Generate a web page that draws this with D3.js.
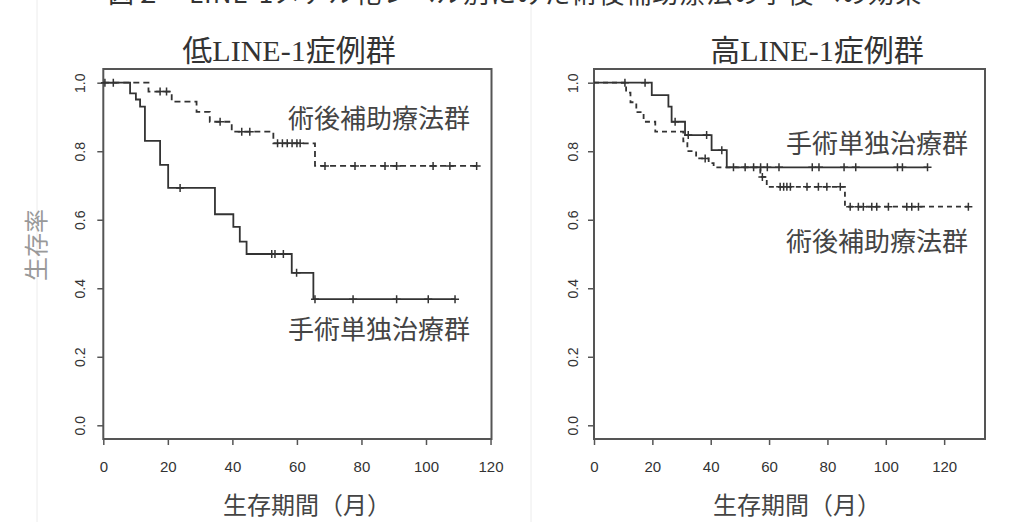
<!DOCTYPE html>
<html>
<head>
<meta charset="utf-8">
<script src="https://cdn.jsdelivr.net/npm/d3@7"></script>
<style>
  body { margin: 0; background: #fff; }
  svg { display: block; }
  .tick text { font-family: "Liberation Sans", Arial, sans-serif; fill: #333; }
</style>
</head>
<body>
<script>

// panel titles and group labels
var panelTitles = ["低LINE-1症例群", "高LINE-1症例群"];
var groupSurg = "手術単独治療群";
var groupAdj = "術後補助療法群";
var xTitle = "生存期間（月）";
var yTitle = "生存率";
var figTitle = "図２　LINE-1メチル化レベル別にみた術後補助療法の予後への効果";

var xTicks = [0, 20, 40, 60, 80, 100, 120];
var yTicks = [0, 0.2, 0.4, 0.6, 0.8, 1.0];

// low LINE-1: surgery only (solid)
var lowSurgTimes = [0, 8.3, 10.1, 11.4, 12.9, 17.6, 20.1, 34.6, 40.3, 42.3, 44.4, 58.4, 65.1];
var lowSurgSurv  = [1, 0.969, 0.951, 0.93, 0.83, 0.76, 0.693, 0.616, 0.579, 0.536, 0.50, 0.445, 0.368];
var lowSurgCens  = [23.8, 52.2, 53.2, 55.8, 59.9, 65.6, 77.4, 90.9, 100.7, 109.0];

// low LINE-1: adjuvant (dashed)
var lowAdjTimes = [0, 14, 21.2, 28.9, 33, 39.8, 52.7, 65.6];
var lowAdjSurv  = [1, 0.974, 0.945, 0.915, 0.886, 0.857, 0.823, 0.757];
var lowAdjCens  = [0.5, 3.1, 17.6, 19.6, 36.2, 42.9, 45.4, 54, 55.5, 57, 58.5, 60, 61,
                   68.7, 78, 87.3, 90.9, 102.2, 107.4, 115.7];

// high LINE-1: surgery only (solid)
var highSurgTimes = [0, 19.8, 25.5, 26.6, 31.2, 40.3, 45.5];
var highSurgSurv  = [1, 0.964, 0.93, 0.886, 0.847, 0.803, 0.753];
var highSurgCens  = [10.6, 17.5, 27.8, 32.3, 38.6, 43.8, 47.8, 51.8, 54.7, 57.1, 59.4, 63.4,
                     74.8, 77.1, 85.7, 89.7, 104, 105.7, 114.3];

// high LINE-1: adjuvant (dashed)
var highAdjTimes = [0, 11, 12.5, 14.5, 17, 21, 30.6, 32, 35, 39.3, 41, 57, 59.2, 86];
var highAdjSurv  = [1, 0.971, 0.943, 0.914, 0.886, 0.857, 0.829, 0.80, 0.779, 0.765, 0.753, 0.725, 0.696, 0.638];
var highAdjCens  = [38.1, 57.7, 63.8, 65, 66.1, 67.3, 73, 76.9, 79.8, 84.4, 87.8, 90.6, 92.3,
                    95.2, 96.9, 100.9, 107.2, 108.9, 111.2, 128.3];

var width = 1010, height = 522;
var plotTop = 69, plotBottom = 439;

var svg = d3.select("body").append("svg")
    .attr("width", width)
    .attr("height", height);

// faint frame lines from the source page
[37, 531].forEach(function (x) {
  svg.append("line").attr("x1", x).attr("x2", x).attr("y1", 0).attr("y2", height)
      .attr("stroke", "#ececec").attr("stroke-width", 1);
});

// figure caption, cut off at the top edge as in the source
svg.append("text")
    .attr("x", 108).attr("y", 3)
    .style("font-family", "'Noto Sans CJK JP'")
    .style("font-size", "26px")
    .style("letter-spacing", "1px")
    .attr("fill", "#333")
    .text(figTitle);

var panels = [
  { title: panelTitles[0], left: 103.3, right: 491.5, xmax: 120.3, tx: 289, ax: -18.5,
    series: [
      { times: lowAdjTimes, surv: lowAdjSurv, cens: lowAdjCens, dash: "6,4" },
      { times: lowSurgTimes, surv: lowSurgSurv, cens: lowSurgCens, dash: null }
    ],
    labels: [ { text: groupAdj, x: 470, y: 128 }, { text: groupSurg, x: 470, y: 339 } ],
    xt: 307 },
  { title: panelTitles[1], left: 594, right: 985, xmax: 134, tx: 817, ax: -16.5,
    series: [
      { times: highAdjTimes, surv: highAdjSurv, cens: highAdjCens, dash: "5,4" },
      { times: highSurgTimes, surv: highSurgSurv, cens: highSurgCens, dash: null }
    ],
    labels: [ { text: groupSurg, x: 968, y: 153 }, { text: groupAdj, x: 968, y: 251 } ],
    xt: 797 }
];

panels.forEach(function (p) {
  var x = d3.scaleLinear().domain([0, p.xmax]).range([p.left, p.right]);
  var y = d3.scaleLinear().domain([-0.04, 1.04]).range([plotBottom, plotTop]);
  var g = svg.append("g");

  g.append("rect")
      .attr("x", p.left).attr("y", plotTop)
      .attr("width", p.right - p.left).attr("height", plotBottom - plotTop)
      .attr("fill", "none").attr("stroke", "#555").attr("stroke-width", 2);

  var xAxis = g.append("g")
      .attr("transform", "translate(0," + plotBottom + ")")
      .call(d3.axisBottom(x).tickValues(xTicks).tickSize(6).tickFormat(d3.format("d")));
  xAxis.select(".domain").remove();
  xAxis.selectAll(".tick line").attr("stroke", "#555").attr("stroke-width", 1.5);
  xAxis.selectAll(".tick text").attr("y", 22).style("font-size", "15px");

  var yAxis = g.append("g")
      .attr("transform", "translate(" + p.left + ",0)")
      .call(d3.axisLeft(y).tickValues(yTicks).tickSize(6).tickFormat(d3.format(".1f")));
  yAxis.select(".domain").remove();
  yAxis.selectAll(".tick line").attr("stroke", "#555").attr("stroke-width", 1.5);
  yAxis.selectAll(".tick text")
      .attr("x", null).attr("dy", null)
      .attr("text-anchor", "middle")
      .attr("transform", "translate(" + p.ax + ",0) rotate(-90)")
      .style("font-size", "14px");

  var line = d3.line()
      .x(function (d) { return x(d[0]); })
      .y(function (d) { return y(d[1]); })
      .curve(d3.curveStepAfter);

  p.series.forEach(function (s) {
    var pts = s.times.map(function (t, i) { return [t, s.surv[i]]; });
    var end = Math.max(d3.max(s.cens), d3.max(s.times));
    pts.push([end, s.surv[s.surv.length - 1]]);

    g.append("path")
        .attr("d", line(pts))
        .attr("fill", "none")
        .attr("stroke", "#333")
        .attr("stroke-width", 1.8)
        .attr("stroke-dasharray", s.dash);

    // censor marks
    g.selectAll(null)
      .data(s.cens)
      .enter().append("path")
        .attr("d", function (t) {
          var i = d3.bisectRight(s.times, t) - 1;
          var cx = x(t), cy = y(s.surv[i]);
          return "M" + (cx - 4) + "," + cy + "H" + (cx + 4) +
                 "M" + cx + "," + (cy - 4) + "V" + (cy + 4);
        })
        .attr("stroke", "#333")
        .attr("stroke-width", 1.5);
  });

  p.labels.forEach(function (l) {
    g.append("text")
        .attr("x", l.x).attr("y", l.y)
        .attr("text-anchor", "end")
        .style("font-family", "'Noto Sans CJK JP'")
        .style("font-size", "26px")
        .attr("fill", "#444")
        .text(l.text);
  });

  g.append("text")
      .attr("x", p.tx).attr("y", 61)
      .attr("text-anchor", "middle")
      .style("font-family", "'Liberation Serif', 'Noto Sans CJK JP'")
      .style("font-size", "30px")
      .attr("fill", "#333")
      .text(p.title);

  g.append("text")
      .attr("x", p.xt).attr("y", 514)
      .attr("text-anchor", "middle")
      .style("font-family", "'Noto Sans CJK JP'")
      .style("font-size", "24px")
      .attr("fill", "#444")
      .text(xTitle);
});

svg.append("text")
    .attr("transform", "translate(45,245) rotate(-90)")
    .attr("text-anchor", "middle")
    .style("font-family", "'Noto Sans CJK JP'")
    .style("font-size", "24px")
    .attr("fill", "#999")
    .text(yTitle);

</script>
</body>
</html>
